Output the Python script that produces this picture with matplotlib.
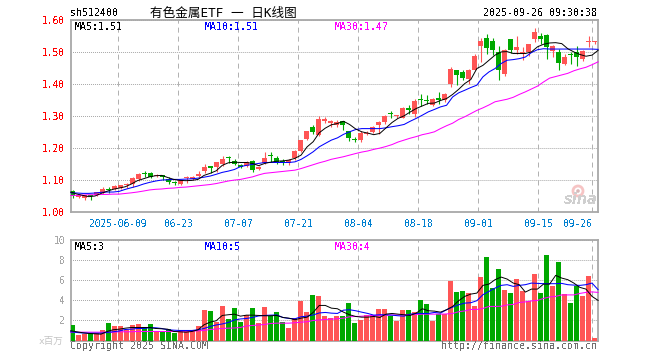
import matplotlib
matplotlib.use('Agg')
import matplotlib.pyplot as plt
import numpy as np
from matplotlib.patches import Circle

W, H = 660, 360
RED = '#ff5555'
GREEN = '#00a800'
GREY = '#a8a8a8'

opens = [1.066,1.047,1.044,1.050,1.052,1.058,1.071,1.071,1.074,1.083,1.088,1.104,1.120,1.122,1.112,1.112,1.102,1.092,1.088,1.105,1.102,1.112,
         1.128,1.140,1.140,1.151,1.170,1.160,1.148,1.144,1.160,1.135,1.152,1.176,1.169,1.158,1.153,1.169,1.190,1.230,1.265,1.240,1.284,1.277,
         1.272,1.284,1.253,1.227,1.225,1.244,1.249,1.272,1.282,1.307,1.299,1.295,1.326,1.308,1.350,1.348,1.336,1.353,1.349,1.400,1.444,1.4375,
         1.415,1.446,1.519,1.544,1.534,1.500,1.431,1.540,1.506,1.498,1.500,1.540,1.550,1.554,1.504,1.500,1.4625,1.492,1.500,1.480,1.532,1.532]
closes = [1.050,1.052,1.052,1.049,1.062,1.072,1.070,1.081,1.083,1.084,1.106,1.119,1.119,1.110,1.113,1.111,1.094,1.091,1.100,1.106,1.111,1.120,
          1.140,1.139,1.155,1.165,1.169,1.150,1.140,1.156,1.131,1.142,1.169,1.175,1.158,1.157,1.163,1.190,1.225,1.253,1.250,1.290,1.290,1.285,
          1.281,1.272,1.232,1.226,1.247,1.245,1.266,1.282,1.300,1.306,1.300,1.327,1.318,1.347,1.349,1.347,1.355,1.352,1.368,1.449,1.429,1.419,
          1.444,1.4875,1.535,1.5125,1.506,1.444,1.508,1.506,1.517,1.499,1.525,1.5625,1.540,1.517,1.519,1.467,1.485,1.491,1.485,1.504,1.533,1.533]
highs = [1.068,1.053,1.053,1.052,1.064,1.078,1.077,1.083,1.085,1.090,1.108,1.123,1.127,1.125,1.118,1.115,1.108,1.098,1.101,1.112,1.113,1.127,
         1.150,1.140,1.156,1.175,1.175,1.165,1.150,1.160,1.163,1.143,1.187,1.187,1.175,1.165,1.165,1.194,1.226,1.254,1.271,1.302,1.298,1.289,
         1.287,1.286,1.254,1.235,1.252,1.253,1.270,1.284,1.305,1.315,1.305,1.328,1.334,1.353,1.368,1.366,1.357,1.376,1.374,1.454,1.446,1.446,
         1.449,1.494,1.544,1.558,1.544,1.519,1.510,1.542,1.550,1.515,1.526,1.577,1.560,1.558,1.522,1.511,1.496,1.500,1.520,1.506,1.550,1.535]
lows = [1.044,1.045,1.037,1.038,1.050,1.056,1.061,1.069,1.072,1.076,1.079,1.098,1.110,1.106,1.108,1.100,1.088,1.085,1.083,1.092,1.100,1.108,
        1.123,1.123,1.126,1.145,1.154,1.147,1.137,1.140,1.125,1.133,1.150,1.158,1.150,1.147,1.147,1.163,1.188,1.225,1.244,1.238,1.278,1.266,
        1.266,1.256,1.222,1.220,1.220,1.240,1.247,1.245,1.274,1.295,1.293,1.293,1.308,1.298,1.332,1.339,1.332,1.339,1.345,1.392,1.399,1.412,
        1.400,1.444,1.470,1.496,1.490,1.4125,1.427,1.498,1.496,1.475,1.487,1.532,1.525,1.478,1.485,1.444,1.459,1.464,1.457,1.473,1.515,1.525]

ma5 = [1.0625,1.0563,1.052,1.048,1.050,1.058,1.065,1.071,1.075,1.079,1.0875,1.098,1.104,1.110,1.1135,1.1146,1.108,1.102,1.099,1.098,1.099,1.102,
       1.1146,1.121,1.129,1.146,1.154,1.156,1.155,1.155,1.152,1.145,1.152,1.156,1.159,1.160,1.1625,1.168,1.178,1.204,1.220,1.248,1.2625,1.273,
       1.277,1.284,1.274,1.260,1.251,1.247,1.242,1.246,1.263,1.280,1.293,1.301,1.313,1.324,1.332,1.340,1.341,1.349,1.355,1.368,1.384,1.402,
       1.4146,1.449,1.459,1.475,1.491,1.501,1.502,1.496,1.496,1.496,1.501,1.517,1.525,1.529,1.530,1.527,1.511,1.501,1.493,1.4875,1.491,1.506]
ma10 = [1.0604,1.0594,1.0583,1.0583,1.0594,1.0615,1.0625,1.0625,1.0646,1.0708,1.076,1.081,1.0875,1.0927,1.0969,1.100,1.101,1.102,1.102,1.103,1.104,1.106,
        1.109,1.1125,1.118,1.124,1.128,1.133,1.142,1.146,1.149,1.152,1.155,1.155,1.155,1.155,1.155,1.157,1.1646,1.176,1.1885,1.204,1.2146,1.225,
        1.232,1.243,1.251,1.258,1.261,1.261,1.261,1.261,1.2635,1.267,1.270,1.274,1.284,1.293,1.303,1.3135,1.321,1.329,1.334,1.360,1.373,1.381,
        1.3896,1.397,1.423,1.4385,1.449,1.4646,1.475,1.477,1.480,1.485,1.499,1.508,1.511,1.510,1.510,1.510,1.510,1.510,1.510,1.510,1.510,1.509]
ma30 = [1.052,1.052,1.053,1.054,1.054,1.055,1.055,1.056,1.056,1.058,1.060,1.0625,1.0656,1.069,1.071,1.072,1.074,1.075,1.077,1.078,1.080,1.082,
        1.084,1.086,1.089,1.093,1.097,1.100,1.102,1.106,1.110,1.116,1.121,1.123,1.125,1.127,1.129,1.131,1.136,1.142,1.148,1.154,1.159,1.165,
        1.169,1.173,1.178,1.183,1.1875,1.191,1.196,1.200,1.205,1.211,1.219,1.225,1.231,1.236,1.242,1.246,1.251,1.261,1.270,1.278,1.2896,1.298,
        1.308,1.318,1.326,1.335,1.345,1.349,1.353,1.359,1.368,1.376,1.385,1.394,1.407,1.419,1.424,1.429,1.434,1.442,1.448,1.453,1.461,1.470]

volumes = [1.5,.5,.6,.73,.73,1.0,1.7,1.4,1.4,1.07,1.5,1.6,1.3,1.6,.9,.8,1.1,.7,.97,.9,1.0,1.4,
           3.0,2.9,1.8,3.4,2.1,3.2,1.8,2.5,3.2,1.7,3.3,2.4,2.8,1.8,1.2,2.2,3.9,2.8,4.5,4.4,2.4,2.2,
           2.4,2.4,3.7,1.7,2.0,2.5,2.5,3.1,3.1,2.4,1.9,3.0,3.0,2.8,4.0,3.6,1.9,2.6,2.6,5.9,4.8,4.9,
           4.7,3.4,6.3,8.3,5.2,7.1,5.0,4.7,6.1,4.9,3.9,6.6,4.7,8.5,5.4,7.8,4.6,3.7,5.4,4.4,6.4,.27]
vol_ma5 = [.97,.87,.77,.7,.67,.63,.9,1.07,1.13,1.23,1.3,1.3,1.3,1.3,1.2,1.17,1.13,.9,.87,.83,.9,1.07,
           1.57,1.83,1.97,2.5,2.57,2.63,2.43,2.53,2.53,2.5,2.47,2.47,2.5,2.3,2.23,2.07,2.23,2.33,2.8,3.5,3.5,3.23,
           3.17,2.83,2.57,2.4,2.33,2.33,2.4,2.3,2.63,2.7,2.63,2.57,2.5,2.73,3.17,2.97,2.93,2.83,3.07,3.4,3.97,4.4,
           4.63,4.73,5.5,5.63,6.07,6.33,6.13,5.73,5.57,4.83,5.13,5.13,5.63,5.63,6.5,6.23,6.07,5.73,5.3,5.13,4.4,4.0]
vol_ma10 = [.87,.8,.75,.73,.73,.73,.8,.87,.95,1.1,1.13,1.2,1.2,1.27,1.27,1.2,1.07,1.03,1.0,1.0,1.0,1.07,
            1.2,1.4,1.55,1.65,1.8,2.05,2.15,2.2,2.3,2.45,2.5,2.53,2.55,2.3,2.2,2.17,2.37,2.43,2.55,2.75,2.8,2.73,
            2.7,3.03,3.07,2.97,2.83,2.7,2.53,2.57,2.57,2.53,2.47,2.43,2.63,2.7,2.7,2.7,2.8,2.73,3.07,3.33,3.57,3.73,
            3.77,3.97,4.57,4.9,5.23,5.5,5.57,5.4,5.5,5.57,5.73,5.7,5.67,5.67,5.67,5.7,5.57,5.53,5.5,5.57,5.73,5.07]
vol_ma30 = [.83,.83,.83,.83,.83,.83,.83,.83,.87,.87,.87,.9,.9,.9,.9,.9,.9,.9,.9,.93,.93,.97,
            1.0,1.1,1.15,1.2,1.23,1.25,1.3,1.45,1.5,1.55,1.6,1.7,1.73,1.73,1.73,1.77,1.83,1.87,2.0,2.05,2.1,2.13,
            2.17,2.23,2.37,2.4,2.42,2.47,2.5,2.5,2.52,2.55,2.55,2.57,2.58,2.6,2.63,2.63,2.63,2.63,2.65,2.7,2.87,2.95,
            3.1,3.1,3.2,3.4,3.4,3.42,3.55,3.6,3.8,3.85,3.95,4.0,4.2,4.35,4.4,4.55,4.55,4.55,4.7,4.8,4.85,4.8]

tick_pos = [8, 18, 28, 38, 48, 58, 68, 78, 87]
tick_labels = ['2025-06-09', '06-23', '07-07', '07-21', '08-04', '08-18', '09-01', '09-15', '09-26']
price_ticks = [1.00, 1.10, 1.20, 1.30, 1.40, 1.50, 1.60]
vol_ticks = [2, 4, 6, 8, 10]

plt.rcParams['font.family'] = ['DejaVu Sans Mono', 'Noto Sans CJK SC']
plt.rcParams['text.antialiased'] = False

fig = plt.figure(figsize=(W / 100, H / 100), dpi=100)
PX = 0.72  # one pixel in points


def px_axes(left, top, right, bottom):
    return fig.add_axes([left / W, 1 - bottom / H, (right - left) / W, (bottom - top) / H])


def px_text(x, y, s, size_px, **kw):
    fig.text(x / W, 1 - y / H, s, fontsize=size_px * PX, va='center', **kw)


x = np.arange(len(opens))
ma_x = np.linspace(-0.3, 87.6, len(opens))
colors = [RED if c >= o else GREEN for o, c in zip(opens, closes)]
xlim = (-2 / 6, 525.5 / 6)
grid_x = [t - 0.37 for t in tick_pos]

ax = px_axes(70.5, 20.3, 598, 212)
ax2 = px_axes(70.5, 240.3, 598, 340.5)

for a in (ax, ax2):
    a.set_xlim(xlim)
    for s in a.spines.values():
        s.set_color(GREY)
        s.set_linewidth(1.3)
    for g in grid_x:
        a.axvline(g, color='#b0b0b0', lw=0.7, dashes=(5.14, 4.11), zorder=2.5)
    a.set_axisbelow(True)
    a.grid(axis='y', color=GREY, lw=0.7, linestyle=(0.515, (1.03, 1.03)))
    a.tick_params(length=0)

ax.set_ylim(1.0, 1.6)
ax.set_yticks(price_ticks)
ax.set_yticklabels(['%.2f' % p for p in price_ticks], color='#ff0000', fontsize=6.9)
ax.tick_params(axis='y', pad=4)
ax.set_xticks(grid_x, tick_labels, color='#0080d0', fontsize=6.9)
ax.tick_params(axis='x', pad=5)
ax.get_xticklabels()[-1].set_ha('right')

body_low = [min(o, c) for o, c in zip(opens, closes)]
body_h = [max(abs(o - c), 0.0035) for o, c in zip(opens, closes)]
ax.vlines(x, lows, highs, colors=colors, lw=1.1 * PX, zorder=3)
ax.bar(x, body_h, width=5.2 / 6, bottom=body_low, color=colors, zorder=3, antialiased=False)
ax.plot(ma_x, ma30, color='#ff00ff', lw=0.75, zorder=4, clip_on=False)
ax.plot(ma_x, ma10, color='#0000ff', lw=0.75, zorder=5, clip_on=False)
ax.plot(ma_x, ma5, color='black', lw=0.7, zorder=6, clip_on=False)

ax2.set_ylim(0, 10)
ax2.set_yticks(vol_ticks)
ax2.set_yticklabels([str(v) for v in vol_ticks], color='#a8a8a8', fontsize=6.9)
ax2.tick_params(axis='y', pad=4)
ax2.set_xticks([])
ax2.bar(x, volumes, width=5.2 / 6, color=colors, zorder=3, antialiased=False)
ax2.plot(ma_x, vol_ma30, color='#ff00ff', lw=0.75, zorder=4, clip_on=False)
ax2.plot(ma_x, vol_ma10, color='#0000ff', lw=0.75, zorder=5, clip_on=False)
ax2.plot(ma_x, vol_ma5, color='black', lw=0.7, zorder=6, clip_on=False)

# titles and legends
px_text(70, 13, 'sh512400', 10, color='black')
px_text(150, 13, '有色金属ETF 一 日K线图', 12.6, color='black', antialiased=True)
px_text(597, 13, '2025-09-26 09:30:38', 10, color='black', ha='right')
px_text(75, 27, 'MA5:1.51', 10, color='black')
px_text(205, 27, 'MA10:1.51', 10, color='#0000ff')
px_text(334.5, 27, 'MA30:1.47', 10, color='#ff00ff')
px_text(75, 246.5, 'MA5:3', 10, color='black')
px_text(205, 246.5, 'MA10:5', 10, color='#0000ff')
px_text(334.5, 246.5, 'MA30:4', 10, color='#ff00ff')
px_text(39, 341, 'x百万', 9.5, color='#c4c4c4', antialiased=True)
px_text(70, 346, 'Copyright 2025 SINA.COM', 10, color='#707070')
px_text(597, 346, 'http://finance.sina.com.cn', 10, color='#707070', ha='right')

# sina watermark
bg = fig.add_axes([0, 0, 1, 1], facecolor='none', zorder=0.5)
bg.set_xlim(0, W)
bg.set_ylim(H, 0)
bg.axis('off')
bg.add_patch(Circle((578, 191), 5, fc='none', ec='#f6c4c4', lw=2))
bg.add_patch(Circle((578, 191), 1.8, fc='#d8b8b8', ec='none'))
bg.text(581, 200, 'sina', fontsize=10.5, family='DejaVu Sans', style='italic', weight='bold',
        color='#cfcfcf', ha='center', va='center', zorder=1)

fig.savefig('out.png', dpi=100)
